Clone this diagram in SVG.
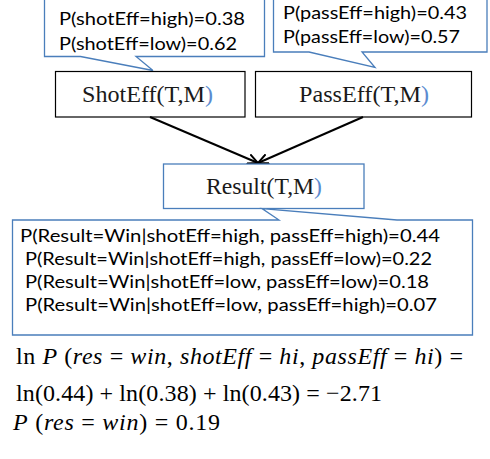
<svg xmlns="http://www.w3.org/2000/svg" width="490" height="459" viewBox="0 0 490 459">
<style>
.call{fill:#fff;stroke:#4a7ebb;stroke-width:1.3}
.box{fill:#fff;stroke:#000;stroke-width:1.2}
.rbox{fill:#fff;stroke:#4a7ebb;stroke-width:1.3}
.cal{font-family:Lato,"Open Sans","Liberation Sans",sans-serif;font-size:17px;fill:#000}
.ser{font-family:"Liberation Serif","Times New Roman",serif;font-size:24px;fill:#1a1a1a}
.blu{fill:#5b8bd0}
.m{font-family:"Liberation Serif","Times New Roman",serif;font-size:24px;fill:#000}
.i{font-style:italic}
.edge{stroke:#000;stroke-width:2;fill:none}
</style>
<defs>
<marker id="arr" viewBox="0 0 10 10" refX="9.5" refY="5" markerWidth="11" markerHeight="11" markerUnits="userSpaceOnUse" orient="auto">
<path d="M0,0.5 L9.5,5 L0,9.5" fill="none" stroke="#000" stroke-width="1.8"/>
</marker>
</defs>
<rect width="490" height="459" fill="#fff"/>

<g id="shotEffCPT">
<path class="call" d="M44.5,-10 H264.5 V56.5 H136 L153,70.5 L80.5,56.5 H44.5 Z"/>
<text class="cal" x="59" y="25" textLength="186" lengthAdjust="spacingAndGlyphs">P(shotEff=high)=0.38</text>
<text class="cal" x="59" y="49.5" textLength="178" lengthAdjust="spacingAndGlyphs">P(shotEff=low)=0.62</text>
</g>

<g id="passEffCPT">
<path class="call" d="M273.5,-10 H487 V52 H362 L375,67.5 L309,52 H273.5 Z"/>
<text class="cal" x="283" y="18.5" textLength="184" lengthAdjust="spacingAndGlyphs">P(passEff=high)=0.43</text>
<text class="cal" x="283" y="43" textLength="177" lengthAdjust="spacingAndGlyphs">P(passEff=low)=0.57</text>
</g>

<g id="shotEff">
<rect class="box" x="55.5" y="71.5" width="189.5" height="45.5"/>
<text class="ser" x="82" y="102" textLength="131" lengthAdjust="spacingAndGlyphs">ShotEff(T,M<tspan class="blu">)</tspan></text>
</g>

<g id="passEff">
<rect class="box" x="255.5" y="71.5" width="216" height="45.5"/>
<text class="ser" x="299" y="102" textLength="130" lengthAdjust="spacingAndGlyphs">PassEff(T,M<tspan class="blu">)</tspan></text>
</g>

<g id="connectors">
<line class="edge" x1="150" y1="117" x2="258" y2="163" marker-end="url(#arr)"/>
<line class="edge" x1="363" y1="117" x2="258" y2="163" marker-end="url(#arr)"/>
</g>

<g id="result">
<rect class="rbox" x="163.5" y="164" width="200.5" height="44.5"/>
<text class="ser" x="206" y="193.5" textLength="116" lengthAdjust="spacingAndGlyphs">Result(T,M<tspan class="blu">)</tspan></text>
</g>

<g id="resultCPT">
<path class="call" d="M12.5,220 H279 L262,208.5 L397,220 H472.5 V335 H12.5 Z"/>
<text class="cal" x="20" y="241.5" textLength="420" lengthAdjust="spacingAndGlyphs">P(Result=Win|shotEff=high, passEff=high)=0.44</text>
<text class="cal" x="25" y="265" textLength="407" lengthAdjust="spacingAndGlyphs">P(Result=Win|shotEff=high, passEff=low)=0.22</text>
<text class="cal" x="25" y="288" textLength="404" lengthAdjust="spacingAndGlyphs">P(Result=Win|shotEff=low, passEff=low)=0.18</text>
<text class="cal" x="25" y="311" textLength="412" lengthAdjust="spacingAndGlyphs">P(Result=Win|shotEff=low, passEff=high)=0.07</text>
</g>

<g id="formulas">
<text class="m" x="16" y="364" textLength="447" lengthAdjust="spacing">ln <tspan class="i">P</tspan> (<tspan class="i">res</tspan> = <tspan class="i">win</tspan>, <tspan class="i">shotEff</tspan> = <tspan class="i">hi</tspan>, <tspan class="i">passEff</tspan> = <tspan class="i">hi</tspan>) =</text>
<text class="m" x="16" y="401" textLength="366" lengthAdjust="spacing">ln(0.44) + ln(0.38) + ln(0.43) = −2.71</text>
<text class="m" x="13" y="430" textLength="207" lengthAdjust="spacing"><tspan class="i">P</tspan> (<tspan class="i">res</tspan> = <tspan class="i">win</tspan>) = 0.19</text>
</g>
</svg>
